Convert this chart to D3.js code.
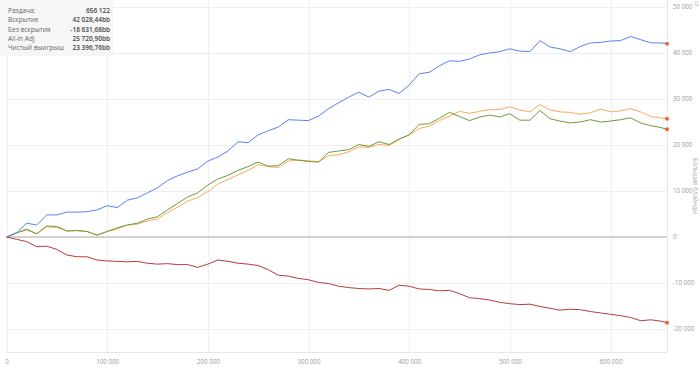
<!DOCTYPE html>
<html>
<head>
<meta charset="utf-8">
<script src="https://cdn.jsdelivr.net/npm/d3@7"></script>
<style>
  body { margin: 0; background: #fff; }
  svg { display: block; font-family: "Open Sans", sans-serif; }
</style>
</head>
<body>
<svg id="chart" width="700" height="370"></svg>
<script>
// hands, one sample every 10 000 plus the last hand
var aHands = d3.range(0, 660000, 10000).concat([656122]);

var aShowdown = [0, 900, 3000, 2600, 4800, 4800, 5400, 5400, 5500, 5900,
  6800, 6400, 8000, 8500, 9600, 10700, 12300, 13300, 14100, 14800,
  16500, 17400, 18700, 20700, 20500, 22200, 23100, 23900, 25500, 25400,
  25300, 26300, 27900, 29200, 30400, 31500, 30400, 31700, 32100, 31200,
  33000, 35500, 35800, 37200, 38300, 38200, 38700, 39600, 40000, 40300,
  40900, 40400, 40300, 42700, 41300, 40900, 40300, 41400, 42200, 42300,
  42600, 42700, 43600, 42900, 42200, 42200, 42028];

var aNonShowdown = [0, -500, -1000, -2100, -2000, -2700, -3900, -4300, -4300, -5000,
  -5200, -5300, -5400, -5300, -5700, -5900, -5800, -6000, -6000, -6600,
  -5900, -5000, -5300, -5700, -5900, -6200, -7100, -8300, -8500, -9000,
  -9300, -9900, -10100, -10700, -11000, -11200, -11300, -11200, -11600, -10500,
  -10700, -11300, -11400, -11700, -11600, -12300, -13200, -13400, -13700, -14200,
  -14500, -14700, -14600, -15100, -15500, -15900, -15700, -15800, -16200, -16500,
  -16800, -17100, -17500, -18200, -18000, -18300, -18632];

var aAllInAdj = [0, 900, 1500, 700, 2200, 2100, 1300, 1400, 1200, 400,
  1200, 1700, 2600, 2800, 3500, 3900, 5300, 6500, 7800, 8600,
  9900, 11500, 12500, 13500, 14500, 15700, 15300, 15100, 16500, 16700,
  16600, 16300, 17700, 17900, 18500, 19600, 19500, 20100, 19900, 21200,
  22200, 23600, 24100, 25300, 26300, 27300, 26900, 27300, 27700, 27700,
  28300, 27600, 27200, 28800, 27600, 27200, 27100, 26700, 27000, 27800,
  27200, 27400, 27900, 27200, 26200, 25900, 25721];

var aNetWon = [0, 900, 1700, 700, 2400, 2300, 1300, 1400, 1200, 400,
  1200, 2000, 2600, 3000, 3900, 4400, 5900, 7300, 8700, 9600,
  11300, 12600, 13400, 14500, 15300, 16300, 15400, 15500, 17000, 16700,
  16400, 16300, 18400, 18700, 19000, 20100, 19700, 20700, 20100, 21300,
  22200, 24500, 24600, 25800, 27100, 26200, 25300, 26100, 26500, 26100,
  26800, 25400, 25400, 27500, 25700, 25200, 24800, 25000, 25500, 25000,
  25200, 25500, 25900, 24800, 24200, 23800, 23397];

var aXTicks = [0, 100000, 200000, 300000, 400000, 500000, 600000];
var aYTicks = [-20000, -10000, 0, 10000, 20000, 30000, 40000, 50000];

var aSummaryLabels = ["Раздача:", "Вскрытие", "Без вскрытия", "All-in Adj", "Чистый выигрыш"];
var aSummaryValues = ["656 122", "42 028,44bb", "-18 631,68bb", "25 720,90bb", "23 396,76bb"];

var svg = d3.select("#chart");

var x = d3.scaleLinear().domain([0, 656122]).range([6.5, 667]);
var y = d3.scaleLinear().domain([-25000, 50000]).range([352, 7]);

function fmt(v) {
  return d3.format(",")(v).replace(/,/g, " ").replace("−", "-");
}

// grid
svg.append("g").selectAll("line").data(aXTicks).enter().append("line")
  .attr("x1", function(d) { return Math.round(x(d)) + 0.5; })
  .attr("x2", function(d) { return Math.round(x(d)) + 0.5; })
  .attr("y1", 0).attr("y2", 352)
  .attr("stroke", "#efefef");

svg.append("g").selectAll("line").data(aYTicks).enter().append("line")
  .attr("x1", 6.5).attr("x2", 667)
  .attr("y1", function(d) { return Math.round(y(d)) + 0.5; })
  .attr("y2", function(d) { return Math.round(y(d)) + 0.5; })
  .attr("stroke", "#efefef");

svg.append("line").attr("x1", 667.5).attr("x2", 667.5).attr("y1", 0).attr("y2", 352)
  .attr("stroke", "#e6e6e6");
svg.append("line").attr("x1", 6.5).attr("x2", 667).attr("y1", 352.5).attr("y2", 352.5)
  .attr("stroke", "#e6e6e6");

svg.append("line").attr("x1", 6.5).attr("x2", 667).attr("y1", y(0)).attr("y2", y(0))
  .attr("stroke", "#c4c4c4").attr("stroke-width", 1.6);

// axes labels
var gx = svg.append("g").attr("transform", "translate(0,352)")
  .call(d3.axisBottom(x).tickValues(aXTicks).tickSize(0).tickPadding(8).tickFormat(fmt));
var gy = svg.append("g").attr("transform", "translate(667,0)")
  .call(d3.axisRight(y).tickValues(aYTicks).tickSize(0).tickPadding(6).tickFormat(fmt));
[gx, gy].forEach(function(g) {
  g.select(".domain").remove();
  g.selectAll("text").attr("fill", "#9a9a9a").attr("font-size", 6.2)
    .attr("font-family", "'Open Sans', sans-serif");
});

svg.append("text")
  .attr("transform", "translate(693,186) rotate(90)")
  .attr("text-anchor", "middle")
  .attr("font-size", 6.2).attr("fill", "#b0b0b0")
  .text("Большие блайнды");
svg.append("text").attr("x", 694).attr("y", 6)
  .attr("font-size", 6.5).attr("fill", "#b0b0b0").text("G");

// lines
var aSeries = [
  { values: aNonShowdown, color: "#b43c3c" },
  { values: aAllInAdj, color: "#ffa85a" },
  { values: aNetWon, color: "#6a9c3c" },
  { values: aShowdown, color: "#5a82f2" }
];

var line = d3.line()
  .x(function(d, i) { return x(aHands[i]); })
  .y(function(d) { return y(d); });

aSeries.forEach(function(s) {
  svg.append("path").datum(s.values)
    .attr("d", line)
    .attr("fill", "none")
    .attr("stroke", s.color)
    .attr("stroke-width", 1)
    .attr("stroke-linejoin", "round");
});

aSeries.forEach(function(s) {
  var iLast = s.values.length - 1;
  svg.append("circle")
    .attr("cx", x(aHands[iLast])).attr("cy", y(s.values[iLast]))
    .attr("r", 2).attr("fill", "#f0663a");
});

// summary box
var gBox = svg.append("g");
gBox.append("rect").attr("x", 0).attr("y", 0).attr("width", 113).attr("height", 56)
  .attr("fill", "#f6f6f6");
aSummaryLabels.forEach(function(s, i) {
  gBox.append("text").attr("x", 8).attr("y", 13 + i * 9.3)
    .attr("font-size", 6.5).attr("fill", "#666").text(s);
  gBox.append("text").attr("x", 110).attr("y", 13 + i * 9.3)
    .attr("text-anchor", "end").attr("font-size", 6.5).attr("font-weight", 600)
    .attr("fill", "#444").text(aSummaryValues[i]);
});
</script>
</body>
</html>
